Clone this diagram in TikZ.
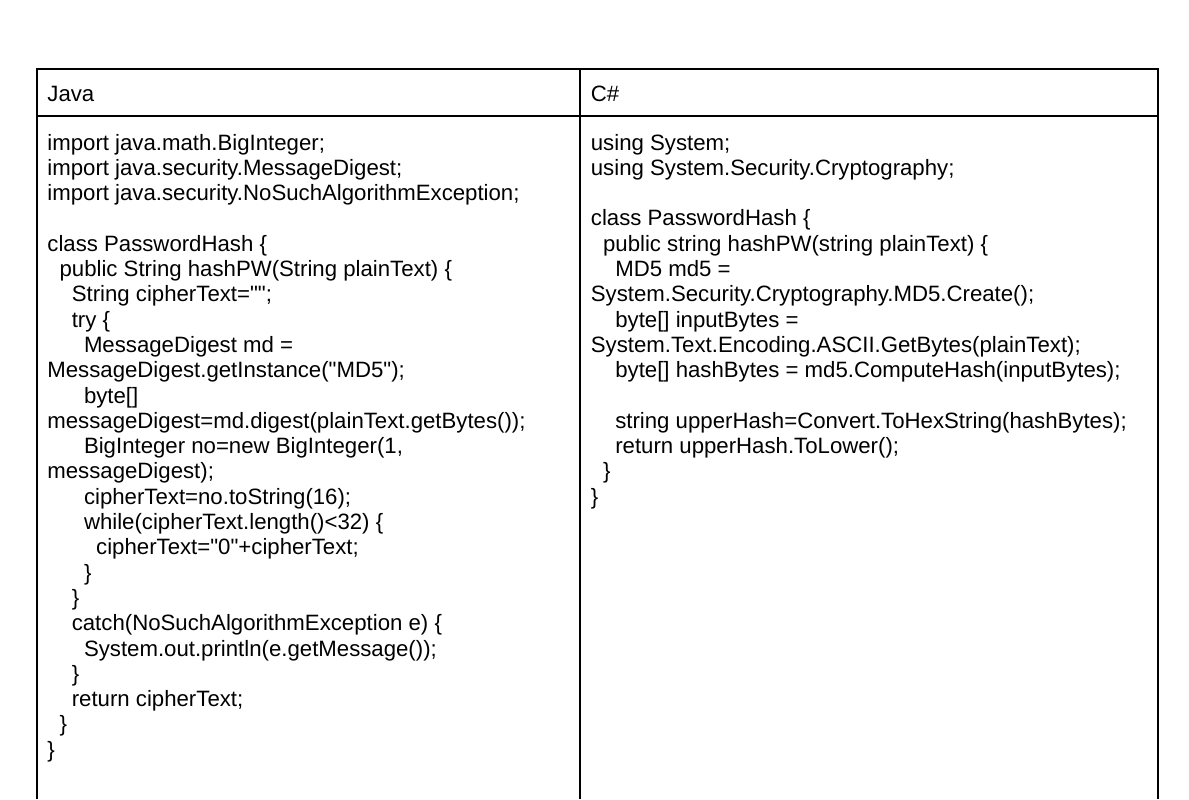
\documentclass[tikz,border=0pt]{standalone}
\usepackage{fontspec}
\newfontfamily\codefont{Liberation Sans}
\tikzset{
  code/.style={anchor=base west, inner sep=0pt, font=\codefont\fontsize{11.1}{12.7}\selectfont},
  rule/.style={line width=1pt}
}
\begin{document}
\begin{tikzpicture}[x=0.5pt,y=-0.5pt]
\useasboundingbox (0,0) rectangle (1189,799);
% table frame (bottom runs off the page)
\coordinate (tl) at (36.7,69.3);
\coordinate (tr) at (1158,69.3);
\draw[rule] (36.7,799) -- (tl) -- (tr) -- (1158,799);
\draw[rule] (36.7,116.3) -- (1158,116.3);
\draw[rule] (579.7,69.3) -- (579.7,799);

\node[code] (javahead) at (47,101.7) {Java};
\node[code] (cshead) at (590.5,101.7) {C\#};

% Java
\node[code] (j1) at (47,150) {import java.math.BigInteger;};
\node[code] (j2) at (47,175.3) {import java.security.MessageDigest;};
\node[code] (j3) at (47,200.6) {import java.security.NoSuchAlgorithmException;};
\node[code] (j5) at (47,251.2) {class PasswordHash \{};
\node[code] (j6) at (59.2,276.5) {public String hashPW(String plainText) \{};
\node[code] (j7) at (71.4,301.8) {String cipherText="";};
\node[code] (j8) at (71.4,327.1) {try \{};
\node[code] (j9) at (83.6,352.4) {MessageDigest md =};
\node[code] (j10) at (47,377.7) {MessageDigest.getInstance("MD5");};
\node[code] (j11) at (83.6,403) {byte[]};
\node[code] (j12) at (47,428.3) {messageDigest=md.digest(plainText.getBytes());};
\node[code] (j13) at (83.6,453.6) {BigInteger no=new BigInteger(1,};
\node[code] (j14) at (47,478.9) {messageDigest);};
\node[code] (j15) at (83.6,504.2) {cipherText=no.toString(16);};
\node[code] (j16) at (83.6,529.5) {while(cipherText.length()<32) \{};
\node[code] (j17) at (95.8,554.8) {cipherText="0"+cipherText;};
\node[code] (j18) at (83.6,580.1) {\}};
\node[code] (j19) at (71.4,605.4) {\}};
\node[code] (j20) at (71.4,630.7) {catch(NoSuchAlgorithmException e) \{};
\node[code] (j21) at (83.6,656) {System.out.println(e.getMessage());};
\node[code] (j22) at (71.4,681.3) {\}};
\node[code] (j23) at (71.4,706.6) {return cipherText;};
\node[code] (j24) at (59.2,731.9) {\}};
\node[code] (j25) at (47,757.2) {\}};

% C#
\node[code] (c1) at (590.5,150) {using System;};
\node[code] (c2) at (590.5,175.3) {using System.Security.Cryptography;};
\node[code] (c4) at (590.5,225.9) {class PasswordHash \{};
\node[code] (c5) at (602.7,251.2) {public string hashPW(string plainText) \{};
\node[code] (c6) at (614.9,276.5) {MD5 md5 =};
\node[code] (c7) at (590.5,301.8) {System.Security.Cryptography.MD5.Create();};
\node[code] (c8) at (614.9,327.1) {byte[] inputBytes =};
\node[code] (c9) at (590.5,352.4) {System.Text.Encoding.ASCII.GetBytes(plainText);};
\node[code] (c10) at (614.9,377.7) {byte[] hashBytes = md5.ComputeHash(inputBytes);};
\node[code] (c12) at (614.9,428.3) {string upperHash=Convert.ToHexString(hashBytes);};
\node[code] (c13) at (614.9,453.6) {return upperHash.ToLower();};
\node[code] (c14) at (602.7,478.9) {\}};
\node[code] (c15) at (590.5,504.2) {\}};
\end{tikzpicture}
\end{document}
